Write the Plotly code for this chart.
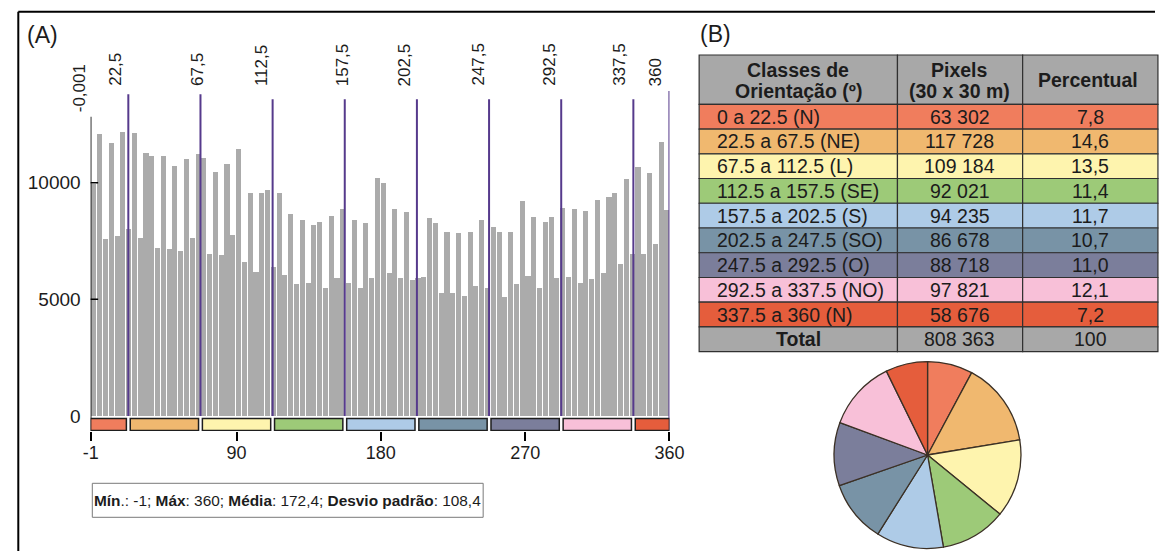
import numpy as np
import plotly.graph_objects as go

W, H = 1170, 551

# ---------------- DATA ----------------
hist_min, hist_max = -1, 360
counts = [9950, 12080, 7580, 11720, 7720, 12190, 8000, 12120, 7650, 11260,
          11160, 7220, 11160, 7150, 10720, 7080, 11010, 7620, 11220, 11080,
          6940, 10480, 6880, 10810, 7760, 11440, 6580, 9550, 6190, 9550,
          9690, 6400, 9550, 6050, 8660, 5660, 8380, 5690, 8190, 8330,
          5480, 8580, 5900, 8860, 5690, 8380, 5480, 8290, 5900, 10190,
          9980, 6120, 8880, 5900, 8730, 5830, 5900, 5970, 8480, 8290,
          5290, 7900, 5290, 7830, 5150, 7900, 5550, 8380, 5480, 8120,
          7900, 5090, 7900, 5650, 9230, 6000, 8550, 5480, 8330, 8520,
          5900, 8900, 5970, 8860, 5690, 8790, 5860, 9260, 6120, 9400,
          9550, 6520, 10160, 6930, 10660, 6930, 10410, 7380, 11760, 8830]

class_breaks = [-0.001, 22.5, 67.5, 112.5, 157.5, 202.5, 247.5, 292.5, 337.5, 360]
break_labels = ["-0,001", "22,5", "67,5", "112,5", "157,5", "202,5", "247,5", "292,5", "337,5", "360"]

class_names = ["0 a 22.5 (N)", "22.5 a 67.5 (NE)", "67.5 a 112.5 (L)", "112.5 a 157.5 (SE)",
               "157.5 a 202.5 (S)", "202.5 a 247.5 (SO)", "247.5 a 292.5 (O)",
               "292.5 a 337.5 (NO)", "337.5 a 360 (N)"]
class_pixels = [63302, 117728, 109184, 92021, 94235, 86678, 88718, 97821, 58676]
class_percent = [7.8, 14.6, 13.5, 11.4, 11.7, 10.7, 11.0, 12.1, 7.2]
total_label = "Total"
total_pixels = 808363
total_percent = 100
table_headers = [["Classes de", "Orientação (º)"], ["Pixels", "(30 x 30 m)"], ["Percentual"]]

x_tick_vals = [-1, 90, 180, 270, 360]
y_tick_vals = [0, 5000, 10000]

stat_min, stat_max, stat_mean, stat_std = -1, 360, 172.4, 108.4

# ---------------- STYLE ----------------
class_colors = ["#f07d5d", "#f0b86f", "#fef4ae", "#9dca78", "#aecbe7",
                "#7893a6", "#7b7e9b", "#f8c0d8", "#e55d3c"]
total_color = "#a8a8a8"
bar_color = "#ababab"
purple = "#563a8c"
grid_col = "#303030"
txt_col = "#1c1c1c"
FONT = "Liberation Sans, Arial, sans-serif"

def pxx(x):
    return x / W

def pxy(y):
    return 1 - y / H

# plot-area pixel geometry
x_left_px, x_right_px = 84.3, 674.7
y_top_px, y_bot_px = 88.0, 431.0
zero_px, px_per_unit = 415.9, 0.02332

def val_from_px(p):
    return (zero_px - p) / px_per_unit

yrange = [val_from_px(y_bot_px), val_from_px(y_top_px)]

# ---------------- FIGURE ----------------
n_bins = len(counts)
edges = np.linspace(hist_min, hist_max, n_bins + 1)
centers = (edges[:-1] + edges[1:]) / 2
bw = edges[1] - edges[0]

fig = go.Figure()
fig.add_trace(go.Bar(x=centers, y=counts, width=bw * 0.88,
                     marker=dict(color=bar_color, line=dict(width=0)),
                     hoverinfo="skip", showlegend=False))

# pie
fig.add_trace(go.Pie(values=class_pixels, labels=class_names, sort=False,
                     direction="clockwise", rotation=0,
                     marker=dict(colors=class_colors, line=dict(color="#3b3025", width=1.3)),
                     textinfo="none", hoverinfo="skip", showlegend=False,
                     domain=dict(x=[pxx(842.7), pxx(1033.3)], y=[pxy(550), pxy(360)])))

shapes = []
annotations = []

def text_ann(x_px, y_px, text, size, xanchor="center", bold=False):
    t = f"<b>{text}</b>" if bold else text
    annotations.append(dict(x=pxx(x_px), y=pxy(y_px), xref="paper", yref="paper", text=t,
                            showarrow=False, xanchor=xanchor, yanchor="middle",
                            font=dict(family=FONT, size=size, color=txt_col)))

# ---- table (B) drawn as cells ----
col_edges = [705, 907.3, 1035, 1173]
col_centers = [806, 971, 1104]
head_top, head_bot, tab_bot = 55.0, 104.3, 351.7
rows_names = class_names + [total_label]
rows_pix = [f"{v:,}".replace(",", " ") for v in class_pixels] + [f"{total_pixels:,}".replace(",", " ")]
rows_pct = [f"{v:.1f}".replace(".", ",") for v in class_percent] + [str(total_percent)]
rows_fill = class_colors + [total_color]
row_h = (tab_bot - head_bot) / len(rows_names)

for c in range(3):
    shapes.append(dict(type="rect", xref="paper", yref="paper",
                       x0=pxx(col_edges[c]), x1=pxx(col_edges[c + 1]),
                       y0=pxy(head_bot), y1=pxy(head_top), fillcolor=total_color,
                       line=dict(color=grid_col, width=1.2), layer="below"))
    lines = table_headers[c]
    if len(lines) == 2:
        text_ann(col_centers[c], 69.5, lines[0], 19.5, bold=True)
        text_ann(col_centers[c], 91.0, lines[1], 19.5, bold=True)
    else:
        text_ann(col_centers[c] - 2, 80.0, lines[0], 19.5, bold=True)

for r in range(len(rows_names)):
    y0 = head_bot + r * row_h
    y1 = y0 + row_h
    yc = (y0 + y1) / 2
    for c in range(3):
        shapes.append(dict(type="rect", xref="paper", yref="paper",
                           x0=pxx(col_edges[c]), x1=pxx(col_edges[c + 1]),
                           y0=pxy(y1), y1=pxy(y0), fillcolor=rows_fill[r],
                           line=dict(color=grid_col, width=1.2), layer="below"))
    is_total = r == len(rows_names) - 1
    if is_total:
        text_ann(col_centers[0], yc, rows_names[r], 19.5, bold=True)
    else:
        text_ann(721, yc, rows_names[r], 19.5, xanchor="left")
    text_ann(col_centers[1], yc, rows_pix[r], 19.5)
    text_ann(col_centers[2], yc, rows_pct[r], 19.5)

# ---- histogram decorations (A) ----
shapes.append(dict(type="line", xref="x", yref="y", x0=hist_min, x1=hist_min,
                   y0=val_from_px(116.7), y1=yrange[0], line=dict(color="black", width=1.6)))
for v in y_tick_vals[1:]:
    shapes.append(dict(type="line", xref="x", yref="y", xsizemode="pixel", xanchor=hist_min,
                       x0=-7.5, x1=7.5, y0=v, y1=v, line=dict(color="black", width=1.6)))

line_top_px = [116.7, 94.3, 94.3, 99.3, 99.3, 99.3, 99.3, 99.3, 99.3, 91.0]
label_bottom_px = [114.0, 88.0, 88.0, 88.0, 88.0, 88.0, 88.0, 88.0, 88.0, 88.0]
label_xshift = [-12, -13, -3, -11, -2, -12, -11, -12, -14, -13]
for i, b in enumerate(class_breaks):
    if i > 0:
        y0 = yrange[0] if i == len(class_breaks) - 1 else 0
        shapes.append(dict(type="line", xref="x", yref="y", x0=b, x1=b,
                           y0=y0, y1=val_from_px(line_top_px[i]),
                           line=dict(color=purple, width=2)))
    annotations.append(dict(x=b, xref="x", y=pxy(label_bottom_px[i]), yref="paper",
                            text=break_labels[i], textangle=-90, showarrow=False,
                            xanchor="center", yanchor="bottom", xshift=label_xshift[i],
                            font=dict(family=FONT, size=17, color=txt_col)))

pad = 1.2
for i in range(len(class_colors)):
    lo = class_breaks[i]
    hi = class_breaks[i + 1]
    x0 = hist_min if i == 0 else lo + pad
    x1 = hist_max if i == len(class_colors) - 1 else hi - pad
    shapes.append(dict(type="rect", xref="x", yref="y", x0=x0, x1=x1,
                       y0=val_from_px(418.6), y1=val_from_px(430.4),
                       fillcolor=class_colors[i], line=dict(color="#1e1e1e", width=1.5)))

# outer frame
shapes.append(dict(type="line", xref="paper", yref="paper", x0=pxx(10.5), x1=pxx(10.5),
                   y0=pxy(11.7), y1=0, line=dict(color="black", width=2)))
shapes.append(dict(type="line", xref="paper", yref="paper", x0=pxx(10.5), x1=1.0,
                   y0=pxy(11.7), y1=pxy(11.7), line=dict(color="black", width=2)))

# stats box
shapes.append(dict(type="rect", xref="paper", yref="paper", x0=pxx(86), x1=pxx(484.7),
                   y0=pxy(517.3), y1=pxy(483.3), line=dict(color="#7a7a7a", width=1),
                   fillcolor="white", layer="below"))
stats_text = (f"<b>Mín</b>.: {stat_min}; <b>Máx</b>: {stat_max}; "
              f"<b>Média</b>: {str(stat_mean).replace('.', ',')}; "
              f"<b>Desvio padrão</b>: {str(stat_std).replace('.', ',')}")
text_ann(285.4, 500.3, stats_text, 15.4)

text_ann(17, 35.5, "(A)", 23, xanchor="left")
text_ann(704, 34, "(B)", 23, xanchor="left")

fig.update_layout(
    width=W, height=H, margin=dict(l=0, r=0, t=0, b=0),
    paper_bgcolor="white", plot_bgcolor="white", showlegend=False,
    bargap=0,
    shapes=shapes, annotations=annotations,
    xaxis=dict(domain=[pxx(x_left_px), pxx(x_right_px)], range=[hist_min, hist_max],
               tickvals=x_tick_vals, ticktext=[str(v) for v in x_tick_vals],
               ticks="outside", ticklen=9, tickwidth=1.6, tickcolor="black",
               showline=False, showgrid=False, zeroline=False, ticklabelstandoff=-4,
               tickfont=dict(family=FONT, size=18, color=txt_col)),
    yaxis=dict(domain=[pxy(y_bot_px), pxy(y_top_px)], range=yrange,
               tickvals=y_tick_vals, ticktext=[str(v) for v in y_tick_vals],
               ticks="", showline=False, showgrid=False, zeroline=False,
               ticklabelstandoff=9,
               tickfont=dict(family=FONT, size=19, color=txt_col)),
)

fig.write_html("out.html")
